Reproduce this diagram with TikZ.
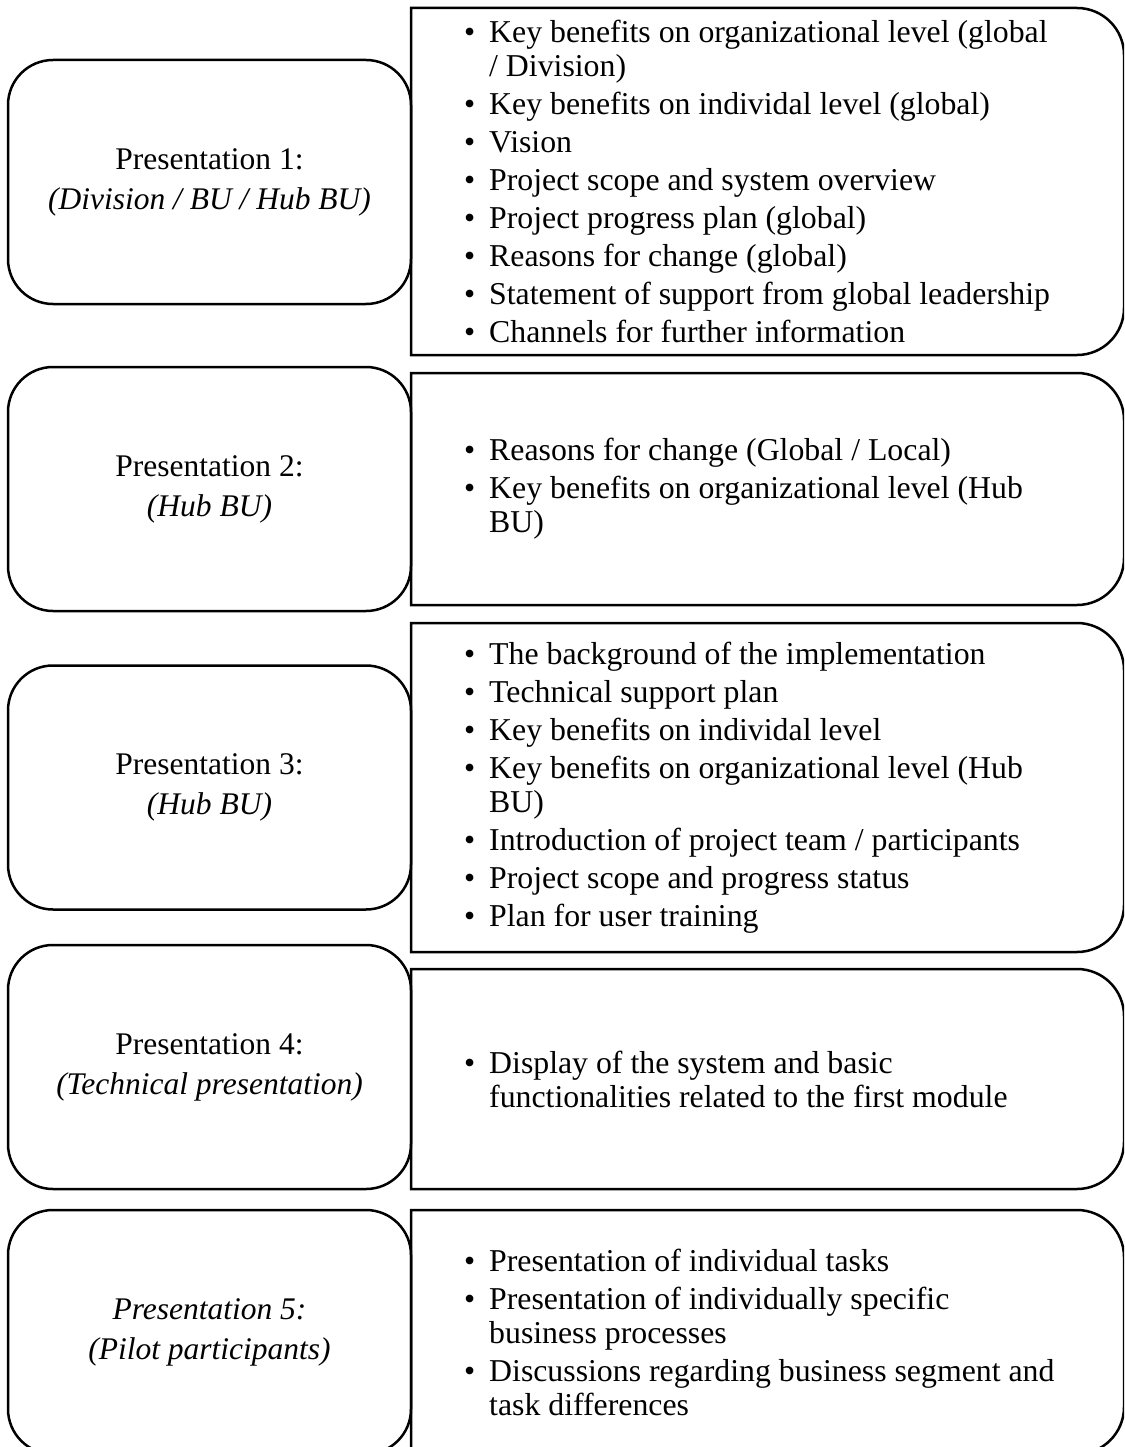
\documentclass[tikz,border=0pt]{standalone}
\usepackage{fontspec}
\setmainfont{Liberation Serif}
\newcommand\bitem{\makebox[25pt][l]{\textbullet}}
\newcommand\bcont{\hspace*{25pt}}
% right-hand panel: square on the left, rounded on the right
\newcommand\rpanel[2]{%
  \draw[frame] (411,#1) -- (1077,#1)
    arc[start angle=-90,end angle=0,radius=47] -- (1124,{#2-47})
    arc[start angle=0,end angle=90,radius=47] -- (411,#2) -- cycle;}
\begin{document}
\begin{tikzpicture}[x=1pt,y=-1pt,
  frame/.style={line width=2.5pt},
  lbox/.style={draw, frame, rounded corners=45pt, minimum width=403pt,
    minimum height=244pt, inner sep=0pt, align=center,
    font=\fontsize{31.5}{40}\selectfont},
  rtext/.style={anchor=west, inner sep=0pt, align=left,
    font=\fontsize{31.8}{34}\selectfont}]
\useasboundingbox (0,0) rectangle (1124,1447);
\clip (0,0) rectangle (1124,1447);

% presentations (left column)
\node[lbox] (p1) at (209.5,182) {Presentation 1:\\\textit{(Division / BU / Hub BU)}};
\node[lbox] (p2) at (209.5,489) {Presentation 2:\\\textit{(Hub BU)}};
\node[lbox] (p3) at (209.5,787.5) {Presentation 3:\\\textit{(Hub BU)}};
\node[lbox] (p4) at (209.5,1067) {Presentation 4:\\\textit{(Technical presentation)}};
\node[lbox] (p5) at (209.5,1332) {\textit{Presentation 5:}\\\textit{(Pilot participants)}};

% contents (right column)
\rpanel{8}{355}
\node[rtext] (c1) at (464,181.5) {%
  \bitem Key benefits on organizational level (global\\
  \bcont / Division)\\[4pt]
  \bitem Key benefits on individal level (global)\\[4pt]
  \bitem Vision\\[4pt]
  \bitem Project scope and system overview\\[4pt]
  \bitem Project progress plan (global)\\[4pt]
  \bitem Reasons for change (global)\\[4pt]
  \bitem Statement of support from global leadership\\[4pt]
  \bitem Channels for further information};

\rpanel{373}{605}
\node[rtext] (c2) at (464,489) {%
  \bitem Reasons for change (Global / Local)\\[4pt]
  \bitem Key benefits on organizational level (Hub\\
  \bcont BU)};

\rpanel{623}{952}
\node[rtext] (c3) at (464,787.5) {%
  \bitem The background of the implementation\\[4pt]
  \bitem Technical support plan\\[4pt]
  \bitem Key benefits on individal level\\[4pt]
  \bitem Key benefits on organizational level (Hub\\
  \bcont BU)\\[4pt]
  \bitem Introduction of project team / participants\\[4pt]
  \bitem Project scope and progress status\\[4pt]
  \bitem Plan for user training};

\rpanel{969}{1189}
\node[rtext] (c4) at (464,1079) {%
  \bitem Display of the system and basic\\
  \bcont functionalities related to the first module};

\rpanel{1210}{1454}
\node[rtext] (c5) at (464,1332) {%
  \bitem Presentation of individual tasks\\[4pt]
  \bitem Presentation of individually specific\\
  \bcont business processes\\[4pt]
  \bitem Discussions regarding business segment and\\
  \bcont task differences};
\end{tikzpicture}
\end{document}
